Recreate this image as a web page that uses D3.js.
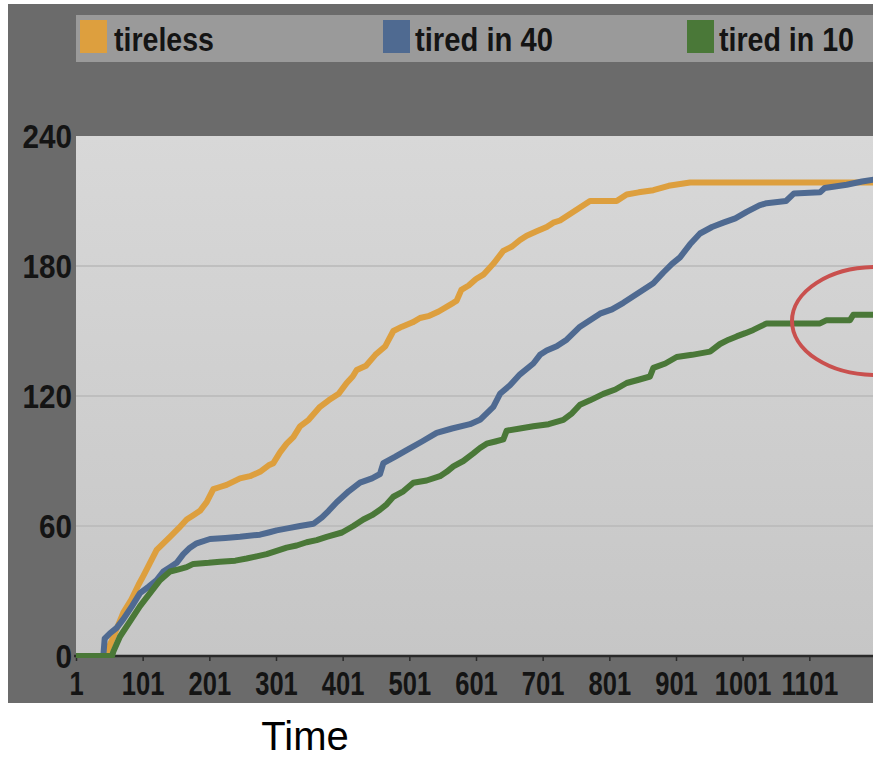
<!DOCTYPE html>
<html>
<head>
<meta charset="utf-8">
<script src="https://cdn.jsdelivr.net/npm/d3@7"></script>
<style>
  html, body { margin: 0; padding: 0; background: #ffffff; }
  svg { display: block; }
  text { font-family: "Liberation Sans", Arial, sans-serif; }
</style>
</head>
<body>
<svg id="chart" width="873" height="758"></svg>
<script>
// Cumulative count over time for three strategies
const seriesNames = ["tireless", "tired in 40", "tired in 10"];
const seriesColors = ["#dd9f3e", "#4f6a91", "#4a7838"];

const timeTicks = [1, 101, 201, 301, 401, 501, 601, 701, 801, 901, 1001, 1101];
const valueTicks = [0, 60, 120, 180, 240];

// [time, count] pairs
const tireless = [
  [1,0],[47,0],[49,3],[60,11],[72,20],[84,26],[95,33],[102,37],[112,43],[122,49],
  [132,52],[142,55],[155,59],[167,63],[177,65],[187,67],[197,71],[207,77],[217,78],
  [227,79],[247,82],[262,83],[277,85],[290,88],[297,89],[307,94],[317,98],[327,101],
  [337,106],[350,109],[367,115],[380,118],[395,121],[407,126],[416,129],[422,132],
  [436,134],[450,139],[465,143],[477,150],[490,152],[506,154],[517,156],[531,157],
  [545,159],[567,163],[572,164],[579,169],[590,171],[601,174],[612,176],[627,181],
  [642,187],[655,189],[667,192],[677,194],[692,196],[707,198],[717,200],[727,201],
  [742,204],[757,207],[772,210],[790,210],[812,210],[827,213],[845,214],[867,215],
  [890,217],[922,218.5],[1200,218.5]
];

const tiredIn40 = [
  [1,0],[42,0],[44,8],[52,10.5],[62,13],[72,17],[85,23],[97,29],[110,32],[122,35],
  [132,39],[142,41],[152,43],[162,47],[172,50],[182,52],[202,54],[225,54.5],[247,55],
  [277,56],[290,57],[302,58],[320,59],[337,60],[357,61],[370,64],[380,67],[392,71],
  [410,76],[427,80],[445,82],[457,84],[462,89],[480,92],[497,95],[520,99],[542,103],
  [565,105],[592,107],[607,109],[617,112],[627,115],[637,121],[652,125],[667,130],
  [687,135],[697,139],[707,141],[722,143],[737,146],[757,152],[772,155],[787,158],
  [805,160],[822,163],[837,166],[852,169],[867,172],[882,177],[895,181],[907,184],
  [922,190],[937,195],[955,198],[972,200],[990,202],[1007,205],[1026,208],[1037,209],
  [1066,210],[1078,213.5],[1117,214],[1124,216],[1157,217.5],[1180,219],[1200,220]
];

const tiredIn10 = [
  [1,0],[55,0],[57,2],[67,9],[82,16],[97,23],[112,29],[127,35],[142,39],[155,40],
  [167,41],[177,42.5],[200,43],[217,43.5],[240,44],[257,45],[272,46],[287,47],
  [302,48.5],[317,50],[332,51],[347,52.5],[362,53.5],[377,55],[400,57],[417,60],
  [432,63],[445,65],[457,67.5],[467,70],[477,73.5],[492,76],[507,80],[527,81],
  [547,83],[557,85],[567,87.5],[582,90],[597,93.5],[607,96],[617,98],[630,99],
  [642,100],[647,104],[667,105],[687,106],[710,107],[732,109],[745,112],[757,116],
  [772,118],[792,121],[810,123],[827,126],[845,127.5],[862,129],[867,133],[885,135],
  [902,138],[925,139],[952,140.5],[967,144],[980,146],[992,147.5],[1005,149],
  [1017,150.5],[1027,152],[1037,153.5],[1117,153.5],[1127,155],[1162,155],
  [1167,157.5],[1200,157.5]
];

const allSeries = [tireless, tiredIn40, tiredIn10];

const svg = d3.select("#chart");
const W = 873;

const plot = { left: 76, top: 136, right: 876, bottom: 656 };

const x = d3.scaleLinear().domain([1, 1201]).range([plot.left, plot.right]);
const y = d3.scaleLinear().domain([0, 240]).range([plot.bottom, plot.top]);

// dark frame
svg.append("rect")
  .attr("x", 8).attr("y", 4)
  .attr("width", W - 8).attr("height", 699)
  .attr("fill", "#6b6b6b");

// legend bar
svg.append("rect")
  .attr("x", 76).attr("y", 15)
  .attr("width", W - 76).attr("height", 47)
  .attr("fill", "#9a9a9a");

// legend entries: narrow bold labels drawn with a horizontal squeeze
const legendPos = [
  { sx: 80, tx: 114, tw: 100 },
  { sx: 383, tx: 415, tw: 138 },
  { sx: 687, tx: 719, tw: 135 }
];
const squeeze = 0.85;
seriesNames.forEach((name, i) => {
  const p = legendPos[i];
  svg.append("rect")
    .attr("x", p.sx).attr("y", 20)
    .attr("width", 27).attr("height", 33)
    .attr("fill", seriesColors[i]);
  svg.append("text")
    .attr("transform", `translate(${p.tx},51) scale(${squeeze},1)`)
    .attr("font-size", 34).attr("font-weight", "bold")
    .attr("fill", "#141414")
    .attr("textLength", p.tw / squeeze).attr("lengthAdjust", "spacingAndGlyphs")
    .text(name);
});

// plot background
const defs = svg.append("defs");
const grad = defs.append("linearGradient")
  .attr("id", "plotBg").attr("x1", 0).attr("y1", 0).attr("x2", 0).attr("y2", 1);
grad.append("stop").attr("offset", "0%").attr("stop-color", "#d8d8d8");
grad.append("stop").attr("offset", "100%").attr("stop-color", "#c6c6c6");

defs.append("clipPath").attr("id", "plotClip")
  .append("rect")
  .attr("x", plot.left).attr("y", plot.top - 10)
  .attr("width", W - plot.left).attr("height", plot.bottom - plot.top + 12);

svg.append("rect")
  .attr("x", plot.left).attr("y", plot.top)
  .attr("width", W - plot.left).attr("height", plot.bottom - plot.top)
  .attr("fill", "url(#plotBg)");

// horizontal gridlines
svg.append("g")
  .selectAll("line")
  .data(valueTicks.filter(v => v > 0 && v < 240))
  .join("line")
  .attr("x1", plot.left).attr("x2", W)
  .attr("y1", d => y(d)).attr("y2", d => y(d))
  .attr("stroke", "#b8b8b8").attr("stroke-width", 1.5);

// x axis
const xAxis = svg.append("g")
  .attr("transform", `translate(0,${plot.bottom})`)
  .call(d3.axisBottom(x).tickValues(timeTicks).tickSize(5).tickPadding(11).tickFormat(d3.format("d")));
xAxis.select(".domain").attr("stroke", "#2a2a2a").attr("stroke-width", 2.5)
  .attr("d", `M${plot.left - 2},0H${W}`);
xAxis.selectAll(".tick line").attr("stroke", "#2a2a2a").attr("stroke-width", 1.5);
xAxis.selectAll(".tick text")
  .attr("font-size", 33).attr("font-weight", "bold").attr("fill", "#141414")
  .attr("font-family", "'Liberation Sans', Arial, sans-serif")
  .attr("textLength", d => String(d).length * 14.2)
  .attr("lengthAdjust", "spacingAndGlyphs");

// y axis
const yAxis = svg.append("g")
  .attr("transform", `translate(${plot.left},0)`)
  .call(d3.axisLeft(y).tickValues(valueTicks).tickSize(0).tickPadding(4));
yAxis.select(".domain").remove();
yAxis.selectAll(".tick text")
  .attr("font-size", 33).attr("font-weight", "bold").attr("fill", "#141414")
  .attr("font-family", "'Liberation Sans', Arial, sans-serif")
  .attr("dy", "0.36em")
  .attr("textLength", d => String(d).length * 16.5)
  .attr("lengthAdjust", "spacingAndGlyphs");

// series lines
const line = d3.line()
  .x(d => x(d[0]))
  .y(d => y(d[1]));

svg.append("g")
  .attr("clip-path", "url(#plotClip)")
  .selectAll("path")
  .data(allSeries)
  .join("path")
  .attr("d", line)
  .attr("fill", "none")
  .attr("stroke", (d, i) => seriesColors[i])
  .attr("stroke-width", 6)
  .attr("stroke-linejoin", "round")
  .attr("stroke-linecap", "butt");

// highlight ring around the end of the "tired in 10" curve
svg.append("ellipse")
  .attr("cx", 876).attr("cy", 321)
  .attr("rx", 84).attr("ry", 54)
  .attr("fill", "none")
  .attr("stroke", "#c9504e")
  .attr("stroke-width", 4);

// axis title
svg.append("text")
  .attr("x", 305).attr("y", 750)
  .attr("text-anchor", "middle")
  .attr("font-family", "Lato, 'Open Sans', sans-serif")
  .attr("font-size", 40)
  .attr("fill", "#000")
  .text("Time");
</script>
</body>
</html>
